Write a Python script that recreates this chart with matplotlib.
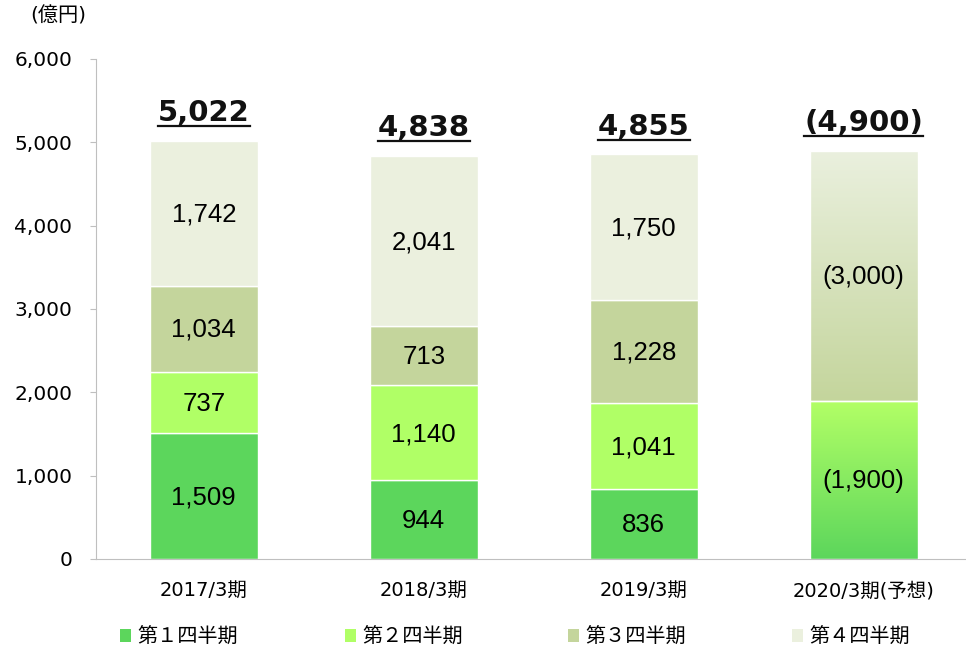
"""Quarterly stacked bar chart (億円) with forecast bar drawn as gradients."""

import matplotlib

matplotlib.use("Agg")
import matplotlib.pyplot as plt
import numpy as np
from matplotlib.colors import LinearSegmentedColormap
from matplotlib.lines import Line2D
from matplotlib.patches import Patch

categories = ["2017/3期", "2018/3期", "2019/3期", "2020/3期(予想)"]
q1 = [1509, 944, 836, 1900]
q2 = [737, 1140, 1041, 0]
q3 = [1034, 713, 1228, 3000]
q4 = [1742, 2041, 1750, 0]
totals = [5022, 4838, 4855, 4900]
forecast = [False, False, False, True]
series_names = ["第１四半期", "第２四半期", "第３四半期", "第４四半期"]
yticks = [0, 1000, 2000, 3000, 4000, 5000, 6000]

colors = ["#5cd65c", "#b0ff66", "#c4d59c", "#ebf0de"]
CJK = ["DejaVu Sans", "Noto Sans CJK JP"]

fig = plt.figure(figsize=(9.66, 6.52), dpi=100)
ax = fig.add_axes([96 / 966, 93 / 652, 880 / 966, 500 / 652])

x = np.arange(len(categories))
width = 0.49
series = [q1, q2, q3, q4]

for i in range(len(categories)):
    bottom = 0
    for s, vals in enumerate(series):
        v = vals[i]
        if v == 0:
            continue
        if forecast[i]:
            # gradient fill: lighter on top, darker at bottom
            if s == 0:
                cm = LinearSegmentedColormap.from_list("g", ["#5cd65c", "#b3ff66"])
            else:
                cm = LinearSegmentedColormap.from_list("g", ["#c4d59c", "#eaf0de"])
            grad = np.linspace(0, 1, 256).reshape(-1, 1)
            ax.imshow(grad, cmap=cm, origin="lower", aspect="auto",
                      extent=(x[i] - width / 2, x[i] + width / 2, bottom, bottom + v),
                      zorder=2)
            ax.add_patch(plt.Rectangle((x[i] - width / 2, bottom), width, v,
                                       facecolor="none", edgecolor="white",
                                       lw=1.0, zorder=3))
            label = f"({v:,})"
        else:
            ax.bar(x[i], v, width, bottom=bottom, color=colors[s],
                   edgecolor="white", linewidth=1.0, zorder=2)
            label = f"{v:,}"
        ax.text(x[i], bottom + v / 2 - 15, label, ha="center", va="center",
                fontsize=18.5, family="Liberation Sans", color="black", zorder=4)
        bottom += v

total_texts = []
for i, t in enumerate(totals):
    label = f"({t:,})" if forecast[i] else f"{t:,}"
    txt = ax.annotate(label, (x[i], t), xytext=(0, 20), textcoords="offset points",
                      ha="center", va="center", fontsize=21, fontweight="bold",
                      family="DejaVu Sans", color="#111111")
    total_texts.append(txt)

ax.set_xlim(-0.49, 3.51)
ax.set_ylim(0, 6000)
ax.set_yticks(yticks)
ax.set_yticklabels([f"{v:,}" for v in yticks], fontsize=14.5, family="DejaVu Sans")
ax.set_xticks(x)
ax.set_xticklabels(categories, fontsize=14, family=CJK)
ax.tick_params(axis="x", length=0, pad=16)
ax.tick_params(axis="y", length=4, color="#bfbfbf", pad=13)
for side in ["top", "right"]:
    ax.spines[side].set_visible(False)
ax.spines["left"].set_color("#bfbfbf")
ax.spines["bottom"].set_color("#bfbfbf")

fig.text(30 / 966, 1 - 16 / 652, "(億円)", fontsize=14.5, family=CJK,
         ha="left", va="center")

# one legend per entry so each sits where the reference puts it
handles = [Patch(facecolor=c, edgecolor="none") for c in colors]
legend_x = [120, 345, 568, 792]
for h, name, lx in zip(handles, series_names, legend_x):
    leg = fig.legend([h], [name], loc="center left",
                     bbox_to_anchor=(lx / 966, 1 - 637 / 652),
                     frameon=False, prop={"family": CJK, "size": 14.5},
                     handlelength=0.55, handleheight=0.55, handletextpad=0.3,
                     borderpad=0, borderaxespad=0)

# underline the totals
fig.canvas.draw()
renderer = fig.canvas.get_renderer()
inv = fig.transFigure.inverted()
for txt in total_texts:
    bb = txt.get_window_extent(renderer)
    (x0, y0), (x1, _) = inv.transform([(bb.x0, bb.y0 + 1), (bb.x1, bb.y0 + 1)])
    fig.add_artist(Line2D([x0, x1], [y0, y0], transform=fig.transFigure,
                          color="#111111", lw=1.6))

fig.savefig("out.png", dpi=100)
